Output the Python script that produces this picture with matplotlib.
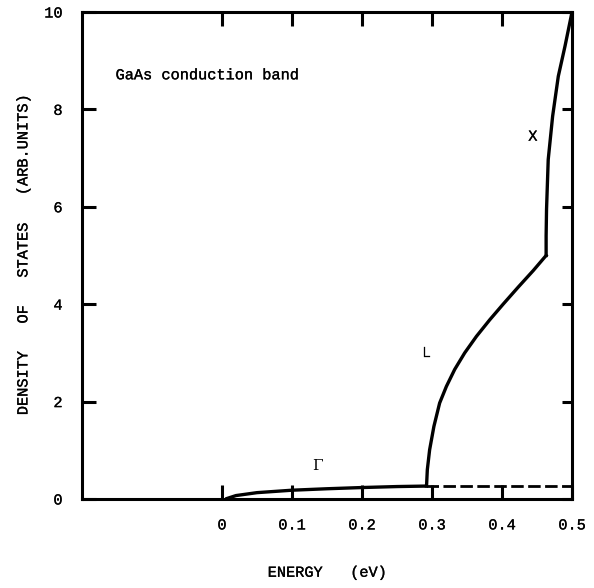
import matplotlib
matplotlib.use("Agg")
import matplotlib.pyplot as plt
import matplotlib.patheffects as pe

# Gamma band
gamma_e = [0.005, 0.02, 0.05, 0.10, 0.15, 0.20, 0.25, 0.292]
gamma_d = [0.0, 0.07, 0.13, 0.18, 0.21, 0.235, 0.255, 0.265]

# L band (starts with a jump at ~0.29 eV)
l_e = [0.292, 0.2923, 0.2933, 0.2966, 0.3027, 0.3109, 0.3205, 0.3324, 0.3467,
       0.3635, 0.3825, 0.4016, 0.4231, 0.4446, 0.4630]
l_d = [0.265, 0.30, 0.60, 1.01, 1.49, 1.97, 2.31, 2.66, 3.00,
       3.34, 3.68, 4.00, 4.35, 4.69, 5.0]

# X band
x_e = [0.4630, 0.4630, 0.4636, 0.466, 0.4723, 0.4804, 0.490, 0.500]
x_d = [5.0, 5.4, 5.95, 6.97, 7.86, 8.68, 9.3, 10.0]

# dashed continuation of Gamma
dash_e = [0.292, 0.50]
dash_d = [0.265, 0.265]

xticks = [0, 0.1, 0.2, 0.3, 0.4, 0.5]
xticklabels = ["0", "0.1", "0.2", "0.3", "0.4", "0.5"]
yticks = [0, 2, 4, 6, 8, 10]

# monospace, like the typewriter lettering of the original
plt.rcParams['font.family'] = ['Liberation Mono', 'DejaVu Sans']
fs = 11
# a touch heavier than the plain face
bold = [pe.withStroke(linewidth=0.2, foreground='black')]

fig = plt.figure(figsize=(5.94, 5.88), dpi=100)
ax = fig.add_axes([0.138, 0.1514, 0.825, 0.8282])

lw = 2.4
ax.plot(gamma_e, gamma_d, color='black', lw=lw, solid_capstyle='butt')
ax.plot(l_e, l_d, color='black', lw=lw, solid_joinstyle='round')
ax.plot(x_e, x_d, color='black', lw=lw, solid_joinstyle='round')
ax.plot(dash_e, dash_d, color='black', lw=2.0, dashes=(4.5, 1.6))

ax.set_xlim(-0.2, 0.5)
ax.set_ylim(0, 10)

ax.set_xticks(xticks)
ax.set_xticklabels(xticklabels)
ax.set_yticks(yticks)

for s in ax.spines.values():
    s.set_linewidth(2.2)

ax.tick_params(axis='both', direction='in', length=10, width=2.2,
               top=True, right=True, labelsize=fs, color='black')
ax.tick_params(axis='x', pad=14)
ax.tick_params(axis='y', pad=14)
for t in ax.yaxis.get_major_ticks():
    t.tick2line.set_markersize(7)
for lab in ax.get_xticklabels() + ax.get_yticklabels():
    lab.set_path_effects(bold)

ax.text(-0.152, 8.7, "GaAs conduction band", fontsize=fs, ha='left', va='center',
        path_effects=bold)
ax.text(0.136, 0.68, "\u0393", fontsize=fs, ha='center', va='center',
        family=['DejaVu Serif'])
ax.text(0.292, 3.0, "L", fontsize=fs, ha='center', va='center', path_effects=bold)
ax.text(0.444, 7.44, "X", fontsize=fs, ha='center', va='center', path_effects=bold)

ax.set_ylabel("DENSITY   OF   STATES   (ARB.UNITS)", fontsize=fs, labelpad=10,
              path_effects=bold)
ax.set_xlabel("ENERGY   (eV)", fontsize=fs, labelpad=24, path_effects=bold)

fig.savefig("out.png", dpi=100)
